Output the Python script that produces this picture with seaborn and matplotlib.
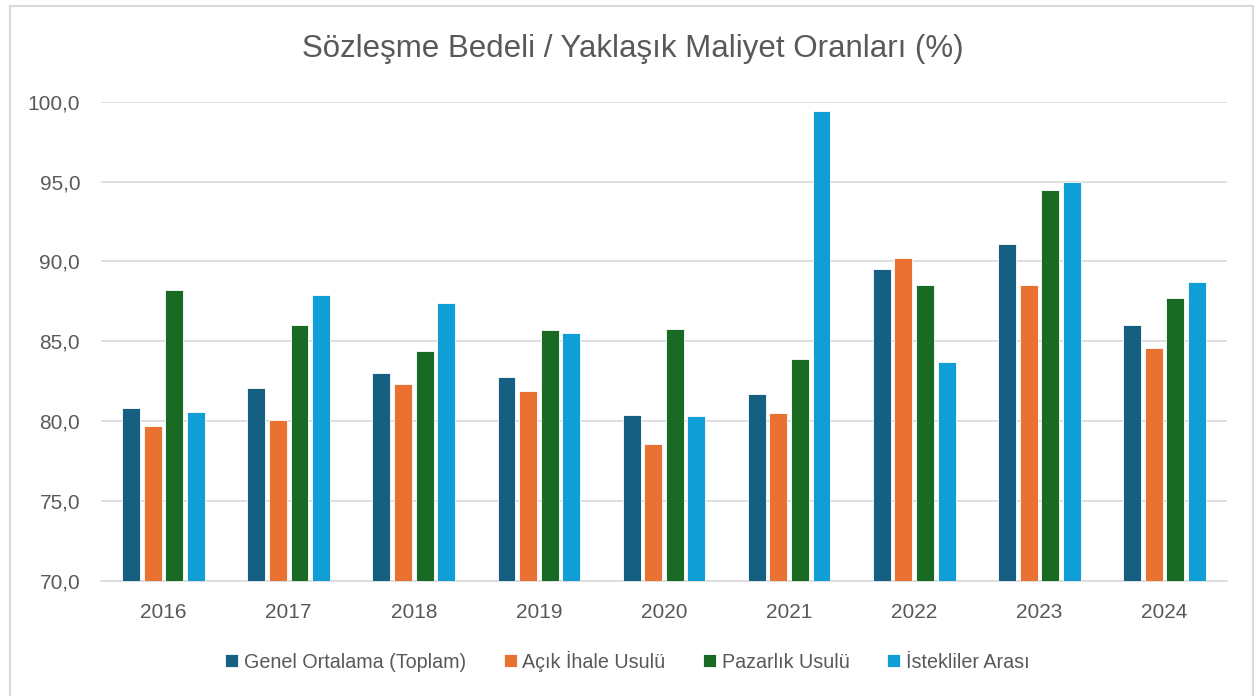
import pandas as pd
import seaborn as sns
import matplotlib
matplotlib.use('Agg')
from matplotlib import pyplot as plt
from matplotlib.patches import Rectangle
import matplotlib.ticker as mtick

years = ['2016', '2017', '2018', '2019', '2020', '2021', '2022', '2023', '2024']
series_names = ['Genel Ortalama (Toplam)', 'Açık İhale Usulü', 'Pazarlık Usulü', 'İstekliler Arası']
genel = [80.8, 82.1, 83.0, 82.8, 80.4, 81.7, 89.5, 91.1, 86.0]
acik = [79.7, 80.1, 82.3, 81.9, 78.6, 80.5, 90.2, 88.5, 84.6]
pazarlik = [88.2, 86.0, 84.4, 85.7, 85.8, 83.9, 88.5, 94.5, 87.7]
istekliler = [80.6, 87.9, 87.4, 85.5, 80.3, 99.4, 83.7, 95.0, 88.7]
colors = ['#156082', '#E97132', '#196B24', '#0F9ED5']

TEXT = '#595959'
GRID = '#D9D9D9'

rows = []
for name, vals in zip(series_names, [genel, acik, pazarlik, istekliler]):
    for y, v in zip(years, vals):
        rows.append({'year': y, 'series': name, 'value': v})
df = pd.DataFrame(rows)

sns.set_style('white')
plt.rcParams['font.family'] = ['Liberation Sans', 'DejaVu Sans']

fig = plt.figure(figsize=(12.55, 6.96), dpi=100)
ax = fig.add_axes([0.0805, 0.1652, 0.8972, 0.6887])

sns.barplot(data=df, x='year', y='value', hue='series', hue_order=series_names,
            palette=colors, saturation=1, width=0.69, gap=0.17, edgecolor='white',
            linewidth=0.6, errorbar=None, ax=ax, zorder=3)

ax.set_ylim(70, 100)
ax.set_yticks([70, 75, 80, 85, 90, 95, 100])
ax.yaxis.set_major_formatter(mtick.FuncFormatter(lambda v, p: f'{v:.1f}'.replace('.', ',')))
ax.set_xlim(-0.5, len(years) - 0.5)
ax.grid(axis='y', color=GRID, linewidth=1.2, zorder=0)
ax.set_axisbelow(True)
sns.despine(ax=ax, left=True, top=True, right=True, bottom=False)
ax.spines['bottom'].set_color(GRID)
ax.spines['bottom'].set_linewidth(1.2)
ax.tick_params(axis='both', length=0, labelsize=15, labelcolor=TEXT)
ax.tick_params(axis='y', pad=15)
ax.tick_params(axis='x', pad=16)
ax.set_xlabel('')
ax.set_ylabel('')

ax.legend_.remove()
handles, labels = ax.get_legend_handles_labels()
fig.legend(handles, labels, loc='center', bbox_to_anchor=(0.5, 0.05), ncol=4,
           frameon=False, fontsize=14.2, labelcolor=TEXT, handlelength=0.65,
           handleheight=0.65, handletextpad=0.3, columnspacing=1.9)

fig.text(0.504, 0.93, 'Sözleşme Bedeli / Yaklaşık Maliyet Oranları (%)',
         ha='center', va='center', fontsize=22.5, color=TEXT)

fig.patches.append(Rectangle((10 / 1255, -0.02), 1243 / 1255, 1.02 - 6 / 696,
                             transform=fig.transFigure, fill=False,
                             edgecolor=GRID, linewidth=1.5))

fig.savefig('out.png', dpi=100)
